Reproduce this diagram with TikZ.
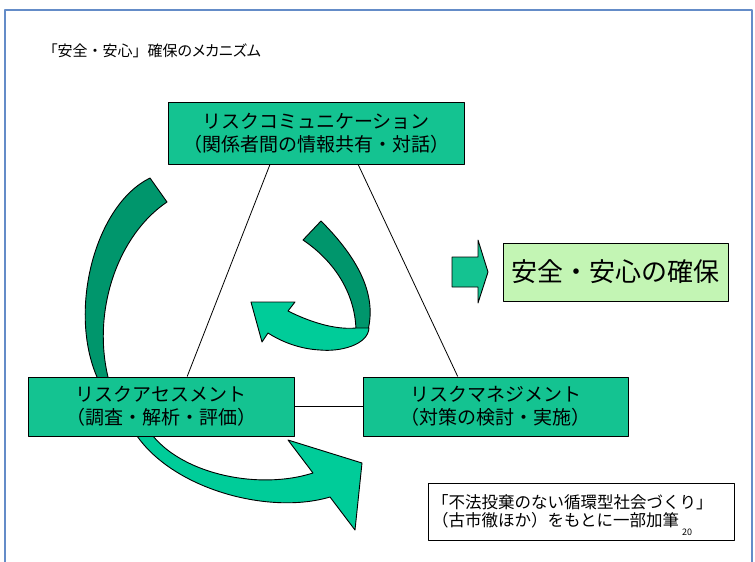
\documentclass[tikz,border=0pt]{standalone}
\usepackage{fontspec}
\setmainfont{Noto Sans CJK JP}
\newfontfamily\paltfont[RawFeature=+palt]{Noto Sans CJK JP}
\usetikzlibrary{calc}
\definecolor{boxg}{RGB}{20,195,145}
\definecolor{lightg}{RGB}{0,204,153}
\definecolor{darkg}{RGB}{0,150,108}
\definecolor{paleg}{RGB}{195,245,180}
\definecolor{framebl}{RGB}{100,140,200}
\begin{document}
\begin{tikzpicture}[x=1pt,y=-1pt,line join=round,
  mainbox/.style={draw=black,line width=1pt,fill=boxg,align=center,inner sep=0pt,
    font=\fontsize{19}{23}\selectfont},
  band/.style={draw=black,line width=0.9pt},
  conn/.style={draw=black,line width=0.8pt}]
\useasboundingbox (0,0) rectangle (755,562);
\fill[white] (0,0) rectangle (755,562);
\draw[framebl,line width=2.2pt] (5,562) -- (5,10) -- (752,10) -- (752,562);

% title
\node[anchor=west,inner sep=0pt,font=\paltfont\fontsize{15}{18}\selectfont] (title) at (50,51) {「安全{\normalfont ・}安心{\normalfont 」}確保のメカニズム};

% left dark band (goes behind the assessment box)
\fill[band,fill=darkg] (150,178) -- (167,202) .. controls (118,235) and (92,310) .. (108,377) -- (110,395) -- (99,395) -- (97,377) .. controls (68,310) and (95,205) .. (150,178) -- cycle;

% bottom light arrow
\fill[band,fill=lightg] (153,425) -- (153,436) .. controls (185,475) and (260,490) .. (313,473) -- (288,440) -- (362,463) -- (355,530) -- (330,497) .. controls (270,515) and (175,490) .. (137,436) -- (135,425) -- cycle;

% centre twisted arrow
\fill[band,fill=darkg] (303,240) -- (321,221) .. controls (352,252) and (378,290) .. (368,330) -- (356,332) .. controls (356,300) and (340,265) .. (303,240) -- cycle;
\fill[band,fill=lightg] (251,302) -- (295,302) -- (288,311) .. controls (310,322) and (335,330) .. (356,328) -- (369,328) .. controls (368,345) and (340,352) .. (320,350) .. controls (300,349) and (282,342) .. (268,333) -- (262,342) -- cycle;

% right block arrow
\fill[band,fill=boxg] (452,257) -- (478,257) -- (478,240) -- (488,272) -- (478,303) -- (478,287) -- (452,287) -- cycle;

% boxes
\node[mainbox,minimum width=296pt,minimum height=62pt] (rc) at (316,133) {リスクコミュニケーション\\（関係者間の情報共有・対話）};
\node[mainbox,minimum width=266pt,minimum height=59pt] (ra) at (161,406.5) {リスクアセスメント\\（調査・解析・評価）};
\node[mainbox,minimum width=265pt,minimum height=59pt] (rm) at (495.5,406.5) {リスクマネジメント\\（対策の検討・実施）};
\node[draw=black,line width=1pt,fill=paleg,minimum width=225pt,minimum height=58pt,inner sep=0pt,
  font=\fontsize{26}{30}\selectfont] (safe) at (615.5,272) {安全・安心の確保};
\node[draw=black,line width=0.8pt,fill=white,text width=298pt,align=left,inner sep=4pt,
  minimum height=57pt,font=\fontsize{16.5}{18}\selectfont] (src) at (581,511.5)
  {「不法投棄のない循環型社会づくり」\\（古市徹ほか）をもとに一部加筆};
\node[inner sep=0pt,font=\fontsize{9}{10}\selectfont] (pg) at (687,532) {20};

% triangle connectors
\draw[conn] ($(rc.south west)!0.345!(rc.south east)$) -- ($(ra.north west)!0.598!(ra.north east)$);
\draw[conn] ($(rc.south west)!0.642!(rc.south east)$) -- ($(rm.north west)!0.358!(rm.north east)$);
\draw[conn] (ra.east) -- (rm.west);
\end{tikzpicture}
\end{document}
